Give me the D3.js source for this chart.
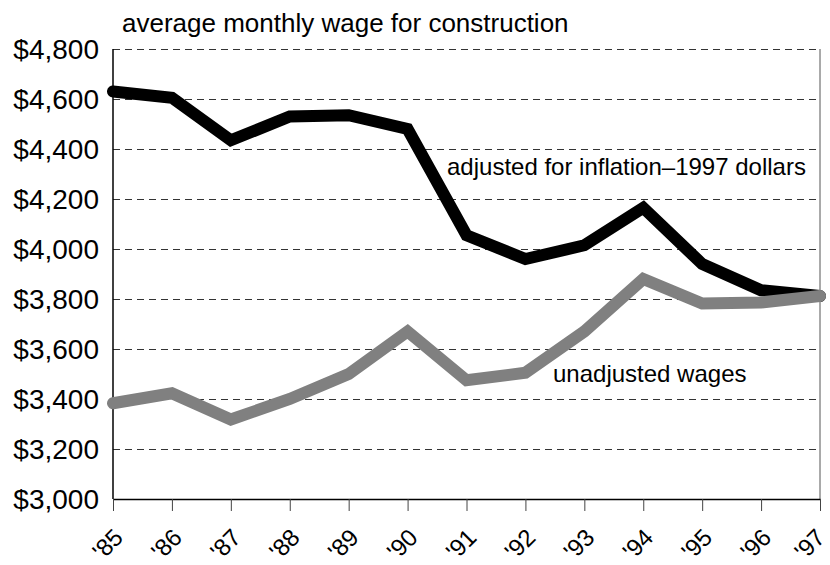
<!DOCTYPE html>
<html>
<head>
<meta charset="utf-8">
<script src="https://cdn.jsdelivr.net/npm/d3@7"></script>
<style>
  body { margin: 0; background: #fff; }
  svg { display: block; font-family: 'Liberation Sans', Arial, sans-serif; }
</style>
</head>
<body>
<svg width="830" height="565"></svg>
<script>
const years = ["'85", "'86", "'87", "'88", "'89", "'90", "'91", "'92", "'93", "'94", "'95", "'96", "'97"];
const adjusted = [4630, 4605, 4435, 4530, 4535, 4480, 4055, 3960, 4015, 4165, 3940, 3835, 3812];
const unadjusted = [3383, 3423, 3318, 3400, 3500, 3670, 3475, 3505, 3670, 3880, 3782, 3786, 3812];
const yTicks = [3000, 3200, 3400, 3600, 3800, 4000, 4200, 4400, 4600, 4800];

const svg = d3.select('svg');
const margin = { top: 49, right: 10, bottom: 66, left: 113 };
const width = 830 - margin.left - margin.right;
const height = 565 - margin.top - margin.bottom;

const g = svg.append('g')
  .attr('transform', 'translate(' + margin.left + ',' + margin.top + ')');

const x = d3.scalePoint().domain(years).range([0, width]);
const y = d3.scaleLinear().domain([3000, 4800]).range([height, 0]);

// Dashed grid lines
g.selectAll('.grid')
  .data(yTicks.filter((d) => d > 3000))
  .enter()
  .append('line')
  .attr('class', 'grid')
  .attr('x1', 0)
  .attr('x2', width)
  .attr('y1', (d) => y(d) + 0.5)
  .attr('y2', (d) => y(d) + 0.5)
  .attr('stroke', '#333')
  .attr('stroke-width', 1)
  .attr('stroke-dasharray', '7,5');

// Right border
g.append('line')
  .attr('x1', width).attr('x2', width)
  .attr('y1', 0).attr('y2', height)
  .attr('stroke', '#555');

// Y axis labels
g.selectAll('.ylab')
  .data(yTicks)
  .enter()
  .append('text')
  .attr('class', 'ylab')
  .attr('x', -14)
  .attr('y', (d) => y(d))
  .attr('dy', '0.36em')
  .attr('text-anchor', 'end')
  .attr('font-size', 28)
  .attr('fill', '#000')
  .text((d) => d3.format('$,')(d));

// Left axis line
g.append('line')
  .attr('x1', 0).attr('x2', 0)
  .attr('y1', 0).attr('y2', height)
  .attr('stroke', '#000')
  .attr('stroke-width', 1.5);

// Bottom axis
const xAxis = g.append('g')
  .attr('transform', 'translate(0,' + height + ')')
  .call(d3.axisBottom(x).tickSize(12).tickSizeOuter(0));
xAxis.select('.domain').attr('stroke', '#000').attr('stroke-width', 1.5);
xAxis.selectAll('.tick line').attr('stroke', '#444');
xAxis.selectAll('text')
  .attr('font-size', 24)
  .attr('font-family', "'Liberation Sans', Arial, sans-serif")
  .attr('fill', '#000')
  .attr('text-anchor', 'middle')
  .attr('y', 0)
  .attr('dy', 0)
  // last label nudged left so it stays inside the frame
  .attr('transform', (d, i) => 'translate(' + (i === years.length - 1 ? -5 : 0) + ',51) rotate(-45)');

const line = d3.line()
  .x((d, i) => x(years[i]))
  .y((d) => y(d));

g.append('path')
  .datum(adjusted)
  .attr('d', line)
  .attr('fill', 'none')
  .attr('stroke', '#000')
  .attr('stroke-width', 12)
  .attr('stroke-linecap', 'round');

g.append('path')
  .datum(unadjusted)
  .attr('d', line)
  .attr('fill', 'none')
  .attr('stroke', '#808080')
  .attr('stroke-width', 12)
  .attr('stroke-linecap', 'round');

// Title and labels
svg.append('text')
  .attr('x', 122)
  .attr('y', 32)
  .attr('font-size', 26)
  .attr('fill', '#000')
  .text('average monthly wage for construction');

svg.append('text')
  .attr('x', 447)
  .attr('y', 175)
  .attr('font-size', 24)
  .attr('fill', '#000')
  .text('adjusted for inflation–1997 dollars');

svg.append('text')
  .attr('x', 553)
  .attr('y', 382)
  .attr('font-size', 24)
  .attr('fill', '#000')
  .text('unadjusted wages');
</script>
</body>
</html>
